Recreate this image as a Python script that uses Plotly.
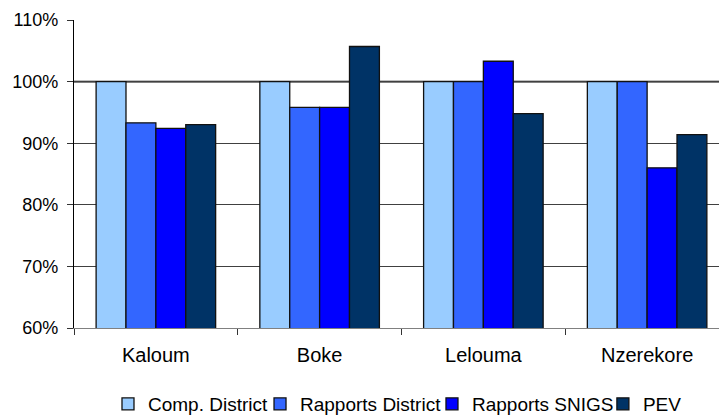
import plotly.graph_objects as go

# Districts and coverage ratios per data source
districts = ["Kaloum", "Boke", "Lelouma", "Nzerekore"]
comp_district = [1.000, 1.000, 1.000, 1.000]
rapports_district = [0.933, 0.958, 1.000, 1.000]
rapports_snigs = [0.924, 0.958, 1.033, 0.860]
pev = [0.930, 1.057, 0.948, 0.914]

series = [
    ("Comp. District", comp_district, "#99CCFF"),
    ("Rapports District", rapports_district, "#3366FF"),
    ("Rapports SNIGS", rapports_snigs, "#0000FF"),
    ("PEV", pev, "#003366"),
]

# Horizontal anchor (paper fraction) of each legend entry along the bottom row
legend_x = [0.0527, 0.2884, 0.555, 0.820]
legend_ids = ["legend", "legend2", "legend3", "legend4"]

font_family = "Liberation Sans, Arial, sans-serif"

fig = go.Figure()
for (name, values, color), lid in zip(series, legend_ids):
    fig.add_trace(go.Bar(
        x=districts,
        y=values,
        name=name,
        legend=lid,
        marker=dict(color=color, line=dict(color="#111111", width=1.3)),
    ))

# Emphasised 100% reference line
fig.add_shape(
    type="line", xref="paper", yref="y",
    x0=0, x1=1, y0=1.0, y1=1.0,
    line=dict(color="#000000", width=1.6),
    layer="below",
)

legend_style = dict(
    orientation="h",
    xanchor="left",
    y=-0.2468, yanchor="middle",
    font=dict(size=19),
    itemwidth=30,
    bgcolor="rgba(0,0,0,0)",
    borderwidth=0,
)
legends = {lid: dict(legend_style, x=lx) for lid, lx in zip(legend_ids, legend_x)}

fig.update_layout(
    width=719,
    height=416,
    margin=dict(l=74, r=0, t=20, b=88, autoexpand=False),
    paper_bgcolor="white",
    plot_bgcolor="white",
    barmode="group",
    bargap=0.27,
    bargroupgap=0,
    font=dict(family=font_family, size=18, color="#000000"),
    showlegend=True,
    xaxis=dict(
        type="category",
        range=[-0.5, 3.439],
        showline=True,
        linecolor="#808080",
        linewidth=1.2,
        ticks="outside",
        tickson="boundaries",
        ticklen=6,
        tickcolor="#333333",
        tickfont=dict(size=20),
        ticklabelstandoff=9,
        showgrid=False,
        zeroline=False,
        fixedrange=True,
    ),
    yaxis=dict(
        range=[0.6, 1.1],
        tickvals=[0.6, 0.7, 0.8, 0.9, 1.0, 1.1],
        tickformat=".0%",
        showline=True,
        linecolor="#000000",
        linewidth=1.2,
        ticks="outside",
        ticklen=6,
        tickcolor="#333333",
        tickfont=dict(size=18),
        ticklabelstandoff=5,
        showgrid=True,
        gridcolor="#404040",
        gridwidth=1,
        zeroline=False,
        fixedrange=True,
    ),
    **legends,
)

fig.write_html("out.html", config={"displayModeBar": False})
